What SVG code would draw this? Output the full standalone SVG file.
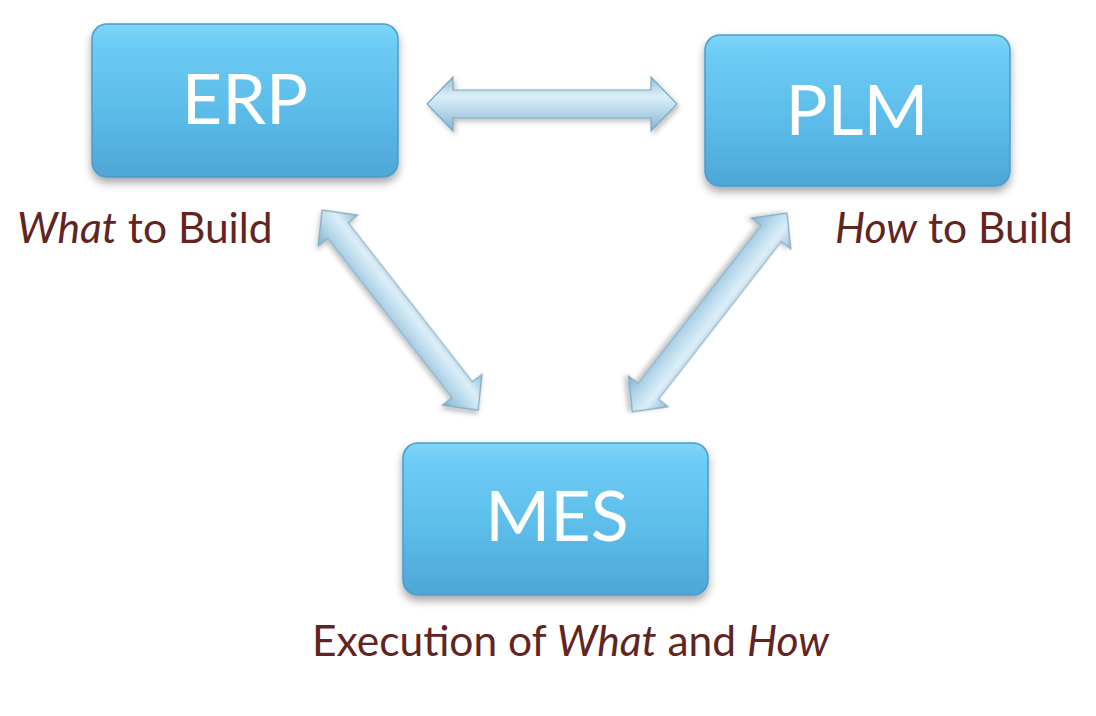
<svg xmlns="http://www.w3.org/2000/svg" width="1096" height="716" viewBox="0 0 1096 716">
  <defs>
    <linearGradient id="boxGrad" x1="0" y1="0" x2="0" y2="1">
      <stop offset="0" stop-color="#7fd6f7"/>
      <stop offset="0.12" stop-color="#6dccf5"/>
      <stop offset="0.6" stop-color="#5bbbe8"/>
      <stop offset="1" stop-color="#4ea6d6"/>
    </linearGradient>
    <linearGradient id="arrowGrad" x1="0" y1="0" x2="0" y2="1">
      <stop offset="0" stop-color="#92bfd9"/>
      <stop offset="0.35" stop-color="#dceef8"/>
      <stop offset="0.55" stop-color="#c3e0f0"/>
      <stop offset="1" stop-color="#86b4cf"/>
    </linearGradient>
    <filter id="shadow" x="-10%" y="-10%" width="120%" height="130%">
      <feDropShadow dx="0" dy="5" stdDeviation="4" flood-color="#000" flood-opacity="0.35"/>
    </filter>
    <filter id="ashadow" x="-20%" y="-40%" width="140%" height="180%">
      <feDropShadow dx="2" dy="3" stdDeviation="2.5" flood-color="#000" flood-opacity="0.25"/>
    </filter>
  </defs>
  <style>
    .box { fill: url(#boxGrad); stroke: #4a9ccb; stroke-width: 1.5; filter: url(#shadow); }
    .boxText { font-family: Lato, "Open Sans", "Liberation Sans", sans-serif; font-size: 70px; fill: #ffffff; text-anchor: middle; }
    .label { font-family: Lato, "Open Sans", "Liberation Sans", sans-serif; font-size: 42.5px; fill: #62241f; }
    .arrow { fill: url(#arrowGrad); stroke: #7ea7bf; stroke-width: 1.2; filter: url(#ashadow); }
  </style>
  <rect width="1096" height="716" fill="#ffffff"/>

  <g id="connectors">
    <path class="arrow" transform="translate(427,104)" d="M0,0 L26,-27 L26,-14 L224,-14 L224,-27 L250,0 L224,27 L224,14 L26,14 L26,27 Z"/>
    <path class="arrow" transform="translate(322,210) rotate(52.05)" d="M0,0 L26,-25 L26,-13 L228,-13 L228,-25 L254,0 L228,25 L228,13 L26,13 L26,25 Z"/>
    <path class="arrow" transform="translate(787,213) rotate(127.9)" d="M0,0 L26,-25 L26,-13 L226,-13 L226,-25 L252,0 L226,25 L226,13 L26,13 L26,25 Z"/>
  </g>

  <g id="erp">
    <rect class="box" x="92" y="24" width="306" height="153" rx="15"/>
    <text class="boxText" x="245" y="124">ERP</text>
  </g>
  <g id="plm">
    <rect class="box" x="705" y="35" width="305" height="151" rx="15"/>
    <text class="boxText" x="857" y="135">PLM</text>
  </g>
  <g id="mes">
    <rect class="box" x="403" y="443" width="305" height="152" rx="15"/>
    <text class="boxText" x="557" y="541">MES</text>
  </g>

  <g id="label-what">
    <text class="label" x="17" y="243"><tspan font-style="italic">What</tspan> to Build</text>
  </g>
  <g id="label-how">
    <text class="label" x="835" y="243"><tspan font-style="italic">How</tspan> to Build</text>
  </g>
  <g id="label-exec">
    <text class="label" x="312" y="656">Execution of <tspan font-style="italic">What</tspan> and <tspan font-style="italic">How</tspan></text>
  </g>
</svg>
